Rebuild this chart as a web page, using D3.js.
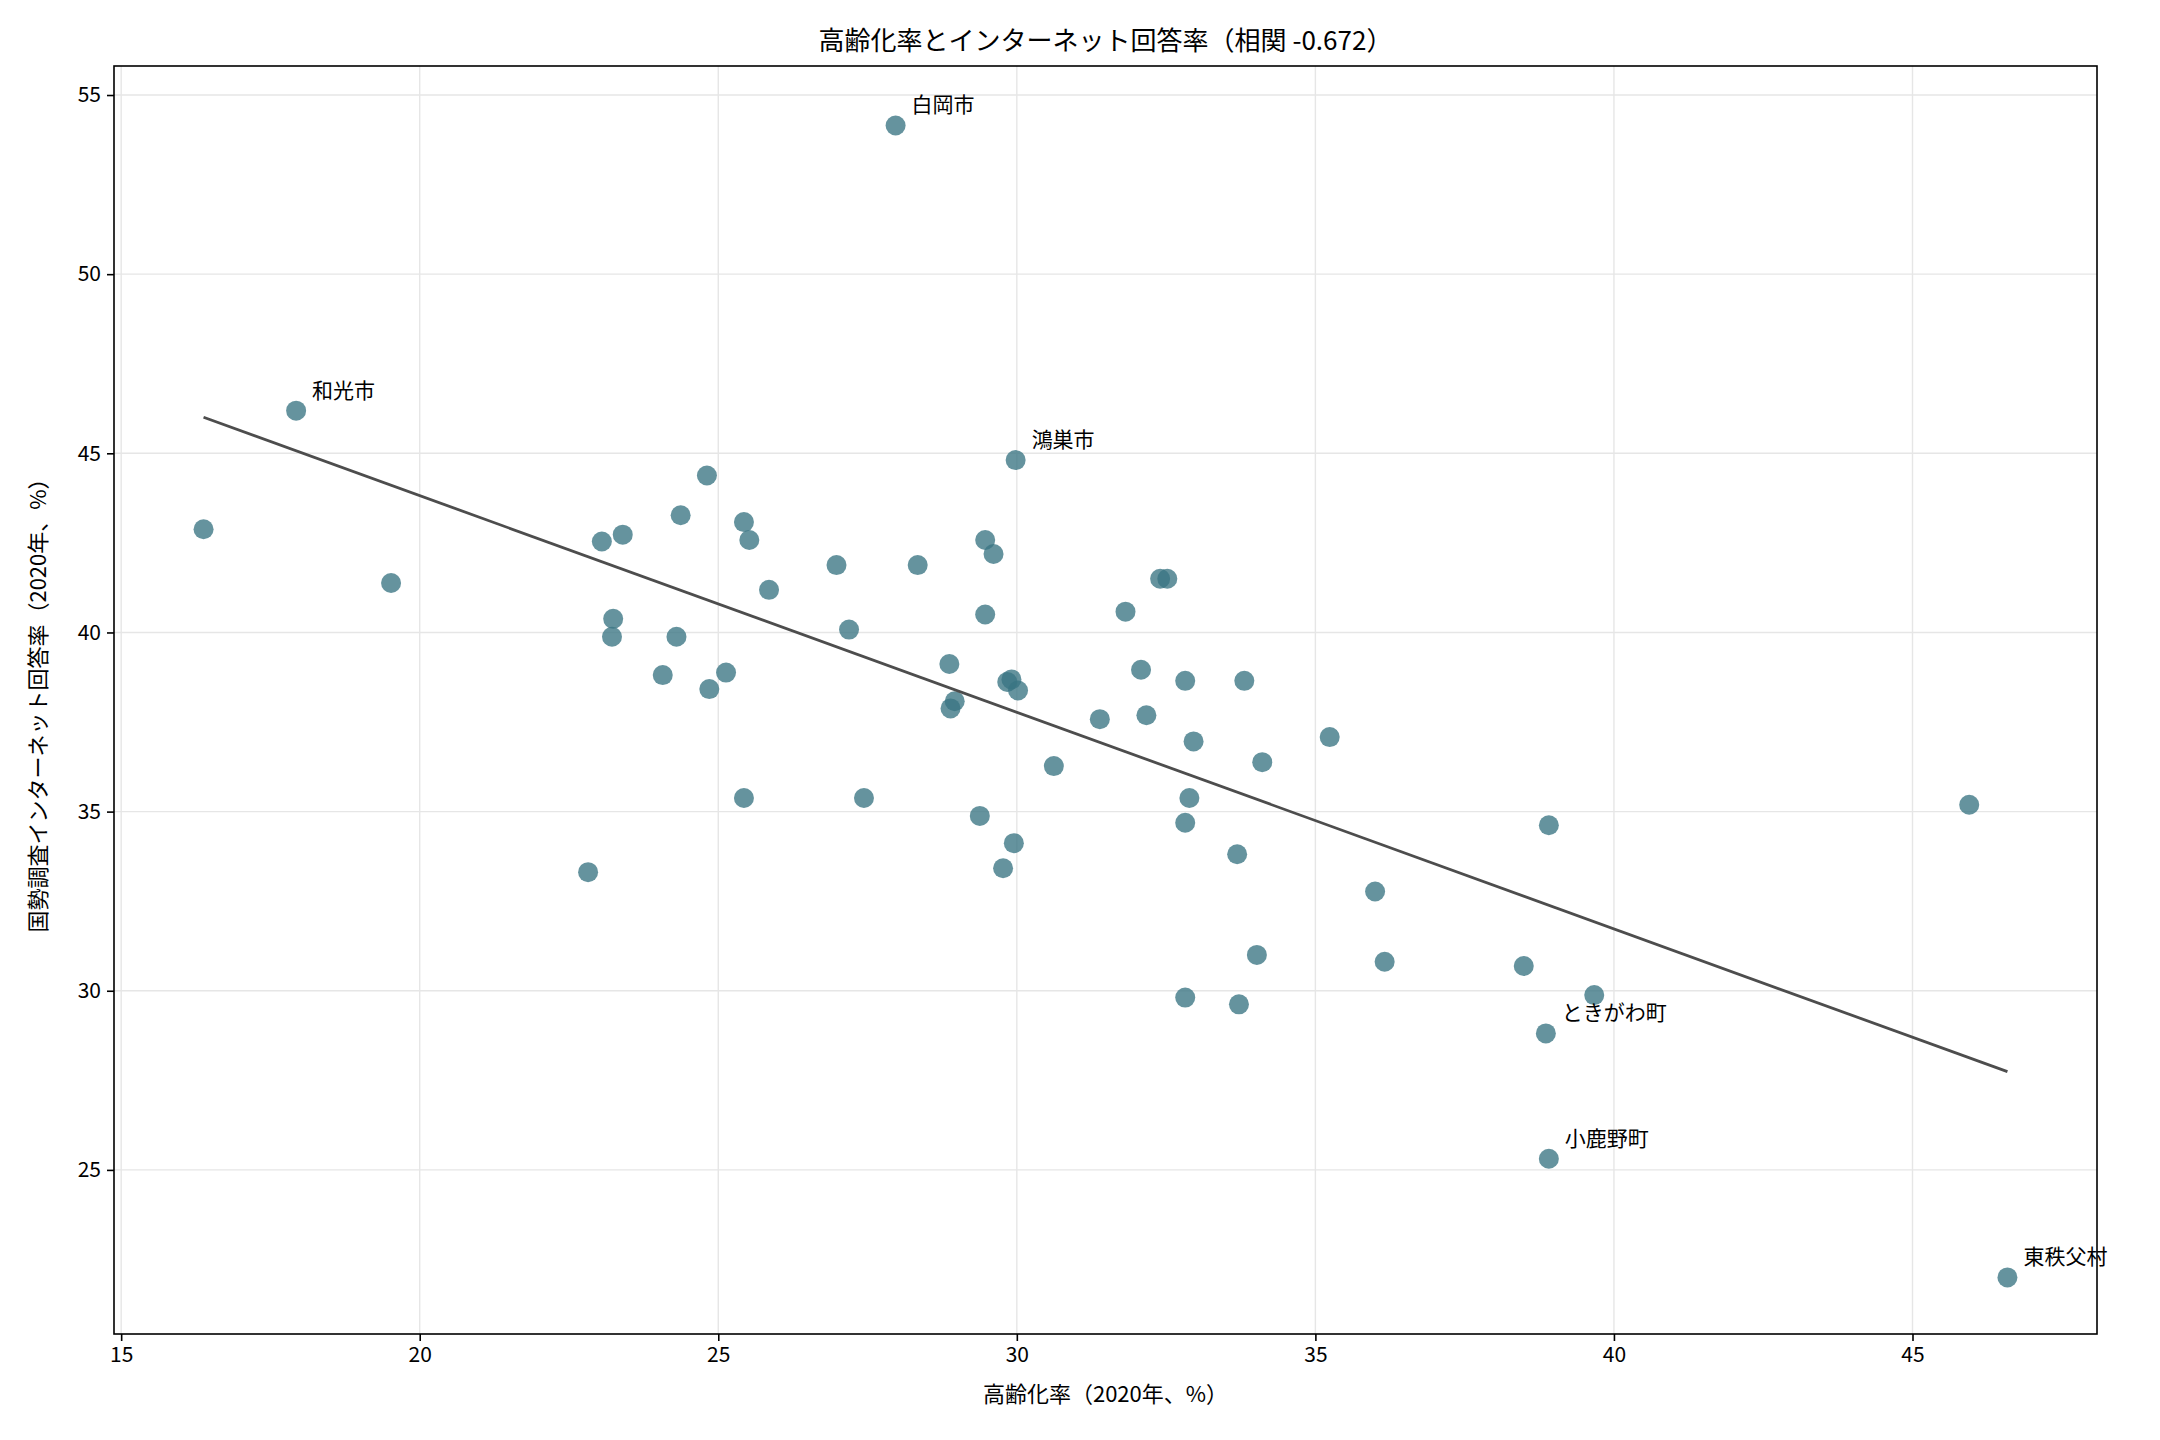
<!DOCTYPE html><html><head><meta charset="utf-8"><script src="https://cdn.jsdelivr.net/npm/d3@7"></script>
<style>body{margin:0;background:#fff}text{font-family:"Noto Sans CJK JP","Noto Sans",sans-serif}</style></head><body>
<svg id="c" width="2160" height="1440"></svg>
<script>
const xVals=[16.38,17.93,19.52,22.82,23.05,23.40,23.24,23.22,24.07,24.30,24.37,24.81,24.85,25.13,25.43,25.52,25.43,25.85,26.98,27.19,27.44,27.97,28.34,28.87,28.96,28.89,29.38,29.47,29.61,29.47,29.84,29.91,30.02,29.98,29.95,29.77,30.62,31.39,31.82,32.08,32.17,32.40,32.52,32.82,32.96,32.89,32.82,32.82,33.69,33.81,33.72,34.02,34.11,35.24,36.0,36.16,38.49,38.86,38.91,38.91,39.67,45.95,46.59];
const yVals=[42.88,46.19,41.38,33.31,42.54,42.73,40.38,39.88,38.81,39.88,43.27,44.38,38.42,38.88,43.08,42.58,35.38,41.19,41.88,40.08,35.38,54.15,41.88,39.12,38.08,37.88,34.88,42.58,42.19,40.50,38.62,38.69,38.38,44.81,34.12,33.42,36.27,37.58,40.58,38.96,37.69,41.50,41.50,38.65,36.96,35.38,34.69,29.81,33.81,38.65,29.62,31.0,36.38,37.08,32.77,30.81,30.69,28.81,34.62,25.31,29.88,35.19,22.0];
const labelNames=["和光市","白岡市","鴻巣市","ときがわ町","小鹿野町","東秩父村"];
const labelIdx=[1,21,33,57,59,62];
const xTicks=[15,20,25,30,35,40,45], yTicks=[25,30,35,40,45,50,55];
const L=114,R=2097,T=66,B=1334;
const svg=d3.select("#c");
const x=d3.scaleLinear().domain([14.88,48.09]).range([L,R]);
const y=d3.scaleLinear().domain([20.42,55.81]).range([B,T]);
const g=svg.append("g");
xTicks.forEach(t=>g.append("line").attr("x1",x(t)).attr("x2",x(t)).attr("y1",T).attr("y2",B).attr("stroke","#e6e6e6").attr("stroke-width",1.4));
yTicks.forEach(t=>g.append("line").attr("y1",y(t)).attr("y2",y(t)).attr("x1",L).attr("x2",R).attr("stroke","#e6e6e6").attr("stroke-width",1.4));
const ax=svg.append("g").attr("transform",`translate(0,${B})`).call(d3.axisBottom(x).tickValues(xTicks).tickSize(7).tickPadding(6).tickFormat(d3.format("d")));
const ay=svg.append("g").attr("transform",`translate(${L},0)`).call(d3.axisLeft(y).tickValues(yTicks).tickSize(7).tickPadding(6).tickFormat(d3.format("d")));
[ax,ay].forEach(a=>{a.select(".domain").remove();a.selectAll("line").attr("stroke","#000").attr("stroke-width",1.6);a.selectAll("text").attr("font-size",21).attr("fill","#000");});
const n=xVals.length,mx=d3.mean(xVals),my=d3.mean(yVals);
let sxy=0,sxx=0;for(let i=0;i<n;i++){sxy+=(xVals[i]-mx)*(yVals[i]-my);sxx+=(xVals[i]-mx)**2;}
const b=sxy/sxx,a0=my-b*mx;const x0=d3.min(xVals),x1=d3.max(xVals);
svg.selectAll(".pt").data(xVals).enter().append("circle").attr("cx",d=>x(d)).attr("cy",(d,i)=>y(yVals[i])).attr("r",10).attr("fill","#3a7483").attr("fill-opacity",0.78);
svg.append("line").attr("x1",x(x0)).attr("y1",y(a0+b*x0)).attr("x2",x(x1)).attr("y2",y(a0+b*x1)).attr("stroke","#4d4d4d").attr("stroke-width",2.8);
labelIdx.forEach((k,j)=>svg.append("text").attr("x",x(xVals[k])+16).attr("y",y(yVals[k])-13).attr("font-size",21).text(labelNames[j]));
svg.append("rect").attr("x",L).attr("y",T).attr("width",R-L).attr("height",B-T).attr("fill","none").attr("stroke","#000").attr("stroke-width",1.6);
svg.append("text").attr("x",(L+R)/2).attr("y",50).attr("text-anchor","middle").attr("font-size",26).text("高齢化率とインターネット回答率（相関 -0.672）");
svg.append("text").attr("x",(L+R)/2).attr("y",1402).attr("text-anchor","middle").attr("font-size",22).text("高齢化率（2020年、%）");
svg.append("text").attr("transform",`translate(46,${(T+B)/2}) rotate(-90)`).attr("text-anchor","middle").attr("font-size",22).text("国勢調査インターネット回答率（2020年、%）");
</script></body></html>
